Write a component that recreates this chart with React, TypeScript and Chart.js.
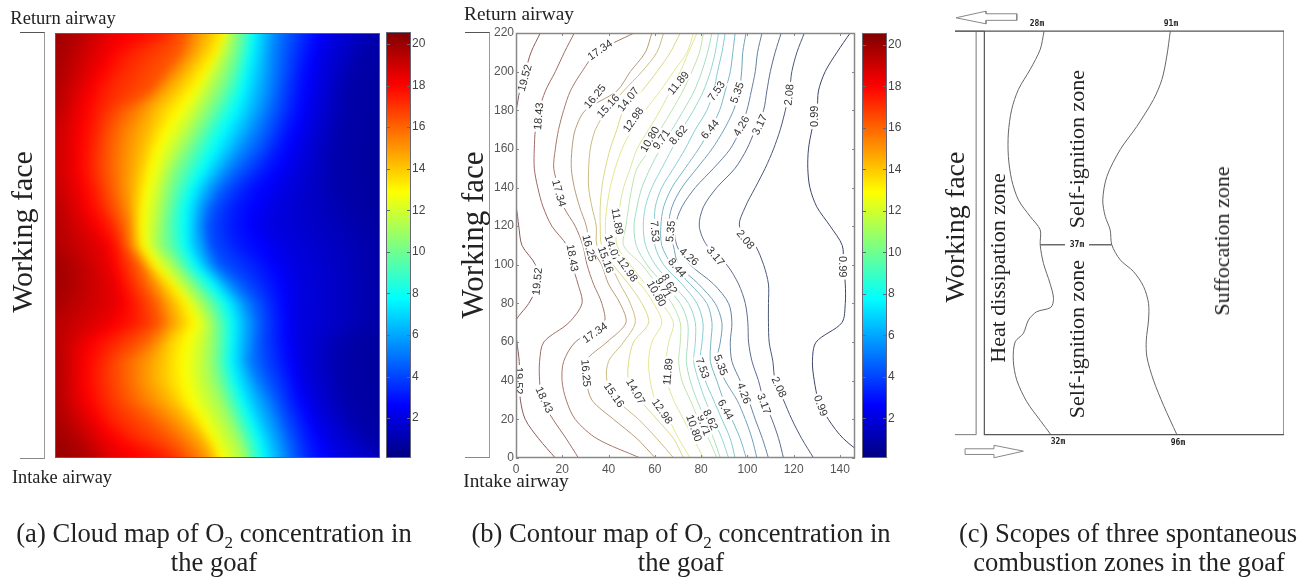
import React, { useEffect, useRef } from "react";
import { Chart, registerables } from "chart.js";
Chart.register(...registerables);

const FONT_SANS = "'Liberation Sans', sans-serif";
const FONT_SERIF = "'Liberation Serif', serif";

// y rows (m along working face) shared by every contour
const rowY = [220,210,200,190,180,170,160,150,140,130,120,110,100,90,80,70,60,50,40,30,20,10,0];

// distance (m) of each O2 iso-line on each row
const c1952 = [10.5,6.5,4,1.6,0,-3,-4,-4,-3,0,1.2,2.6,8.4,9.4,5.5,-0.5,0.4,1.4,1.5,1.9,4,9.8,17];
const c1843 = [25.2,20.9,17,12.7,10,8.4,7.9,7.9,9.4,11.7,15.5,22,24.2,26.8,28.5,22.8,12,10.2,10.2,11.2,16,21.7,27];
const c1734 = [51,35,28.5,23.5,20.6,18.4,17,16.3,18.4,20.6,25.6,28.9,30.7,33.5,37.1,38,25.6,20.6,19.9,21.7,25.6,35,53.7];
const c1625 = [58.7,55.9,49.4,43.6,30,25.6,24.2,23.9,25.2,27.5,30.4,32,37,40,45,47.5,39.3,30,30.4,32.8,42.2,52.3,60.2];
const c1516 = [63.8,60.9,54.4,46.5,39.3,34.3,32.1,31.4,31.4,32.8,34.7,35,40.7,45,49.4,51.5,46.5,40,39.3,43.6,53,60.9,68.1];
const c1407 = [71,66.7,60.9,54.4,46.5,43.6,40.7,38.6,37.1,36.4,36.4,37,42,48.7,54.4,57.3,50.8,48.7,48.7,53.7,60.9,68.1,72.4];
const c1298 = [76.7,73.9,68.1,62.3,55.9,50.1,45.8,42.9,40.7,39.3,38.6,39.5,45,53.7,59.5,63,58.7,57.3,58,60.2,66,70.3,75.3];
const c1189 = [78.2,74.6,71,66.7,62.3,57.3,52.3,49.4,46.5,44.8,43.6,43.6,49.4,55.9,63,68,66,64.8,65.2,68.1,72.4,76.7,81];
const c1080 = [81,79.3,76,72.1,67.4,62.4,58,52.3,50.1,48.7,47.5,46.5,54.4,60.9,67.4,71,71,70.3,71.7,75.3,78.9,83.2,86.8];
const c971 = [84.7,82.8,80.3,77,72.4,67.4,62.4,58,54.4,52.3,51,52,56.6,63.8,71,74.2,74.2,73.6,75.3,78.2,81.8,85.4,88.3];
const c862 = [87.5,86.1,84,81,76.7,71.7,67.4,63,58.7,55.9,55,56,60.2,67.4,74.6,77.5,77.5,76.8,78.9,81.8,85.4,89,91.9];
const c753 = [90.4,89,87.1,85.4,82.5,77.5,73.1,68.1,63,60.2,59.8,60,63.8,71.7,78.2,80.8,80.4,79.6,81.8,85.4,89,92.6,94.7];
const c644 = [94.7,93.7,92.6,90.4,88,83.9,78.9,73.1,67.4,63.8,62.6,63,67.4,75.3,82.5,84.7,84.2,84,86.8,89.7,93.3,96.9,99.5];
const c535 = [99.4,98,97.5,96.5,94,89.9,84.7,78.2,71.7,67.4,66,68,70.3,78.9,86.1,89,88.3,86.9,90.4,95.5,99.1,102,104.1];
const c426 = [106.3,104.4,103.4,101.7,99.8,96.9,92.6,85.4,77.5,71.7,68.8,69.5,75.3,85.4,91.9,93.3,92.6,93.3,96.9,100.5,103.4,106.5,109.1];
const c317 = [114.6,112,109.9,108.4,107,103.4,99.8,94.7,86.8,81,79.2,82.5,91.1,96.2,99.1,100.2,100.5,102,104.8,107,110.6,113.5,115.6];
const c208 = [124.6,121.4,119.2,118.2,116.4,114.2,111.3,107.7,103.4,99.1,96.6,103.4,107,109.1,109.1,109.1,109.4,111,112,115.6,119.2,123.5,128.6];
const c099 = [144.4,138.7,133.6,130.7,130.1,127.9,126.4,126.1,127,130,135.8,141,141.5,142.3,142.3,140.8,129.7,128.1,128.9,130.7,135,141.5,152];

const levels = [19.52,18.43,17.34,16.25,15.16,14.07,12.98,11.89,10.8,9.71,8.62,7.53,6.44,5.35,4.26,3.17,2.08,0.99];
const contours = [c1952,c1843,c1734,c1625,c1516,c1407,c1298,c1189,c1080,c971,c862,c753,c644,c535,c426,c317,c208,c099];
const contourColors = ["#8f5a5a","#a06a62","#a87868","#b89a78","#cdbb80","#dcd884","#e6e68e","#dbe79a","#bfe4ad","#a5dfc0","#92d8d0","#84ccd2","#78b8c8","#6ea0b8","#64829e","#5c6c8c","#4a5878","#3c4668"];

// inline contour labels
const labelTexts = ["19.52","18.43","17.34","16.25","15.16","14.07","12.98","11.89","10.80","9.71","8.62","7.53","5.35","6.44","4.26","3.17","2.08","0.99",
  "17.34","11.89","7.53","5.35","2.08","3.17","4.26","8.44","16.25","15.16","14.07","12.98","18.43","19.52","8.62","9.71","10.80",
  "17.34","16.25","18.43","15.16","14.07","12.98","11.89","10.80","9.71","8.62","19.52","7.53","5.35","4.26","3.17","2.08","0.99","6.44","0.99"];
const labelX = [4,10,36.4,34.3,40,48.7,50.8,70.3,58,63,70.3,86.8,95.8,84,97.6,105.5,118.2,129.3,
  18.4,43.6,59.8,67,99,86.1,74.6,69.5,31.4,38.6,41.5,48,24.2,9.4,66,63.5,60.5,
  34.3,30,12,42.2,51.5,63,65.9,76.7,81,83.9,0.7,80.4,88.3,98.3,107,113.5,131.5,90.4,141.1];
const labelY = [196.7,176.9,211,187,182,185.5,175,194,164.8,164.8,167,189.8,189,170,171.7,172.5,188,176.9,
  137,122.5,117.3,117.3,113,104.3,104,98.3,108.6,102.6,108.6,97.4,103.5,91.4,90,88,85,
  64.6,43.9,30,32.5,34.3,24,44.7,15.4,17,19.7,40,46.5,48,33.5,28,36.6,27,25,99];
const labelAngle = [-75,-85,-35,-50,-48,-52,-55,-50,-60,-55,-50,-55,-70,-50,-60,-65,-85,-90,
  75,80,85,-85,50,50,40,50,75,70,70,55,80,-85,60,60,60,
  -35,85,65,55,60,55,-85,70,70,65,90,70,70,70,70,65,70,60,90];

// axis ticks of the contour map
const xTicks = [0,20,40,60,80,100,120,140];
const yTicks = [0,20,40,60,80,100,120,140,160,180,200,220];
const barTicks = [2,4,6,8,10,12,14,16,18,20];
const X_MAX = 146.5;
const BAR_MIN = 0.08;
const BAR_MAX = 20.58;

// zone boundaries of panel (c)
const innerX = [29.1,27.2,22.3,16.6,13.3,11.7,11.7,13.3,16.6,22.3,27.2,27.2,28.8,32,33.7,32.4,25.5,21.5,19,15,14.1,15.8,20.7,27.2,32.4];
const innerY = [220,210,199.1,188.2,177.2,164.5,151.7,139,128,119,111.7,103.5,93.4,82.5,74.3,69.4,67,62.5,55.2,50.6,40.6,29.7,17.9,7.8,0];
const outerX = [90.6,88.9,86.5,82.4,74.3,66.2,59.7,57.7,58.9,61.3,62.1,66.2,72.7,77.6,80,80,78.9,79.2,82.4,87.3,93.8];
const outerY = [220,206.4,193.6,182.7,168.1,155.4,140.8,128,119,111.7,103.5,95.3,88.9,80.7,71.6,62.5,51.5,42.4,29.7,16,0];
const spanX = [27.2,62.1];
const spanY = [103.5,103.5];
const frameX = [-14.3,146,146,0,0];
const frameY = [220,220,0,0,220];
const wallX = [-14.3,-4,-4,-14.3];
const wallY = [0,0,220,220];
const floorX = [0,-4];
const arrowTopX = [-13.8,0.8,0.8,15.8,15.8,0.8,0.8,-13.8];
const arrowTopY = [227.3,230.9,229.5,229.5,225.9,225.9,224,227.3];
const arrowBotX = [-9.4,4.7,4.7,19,4.7,4.7,-9.4,-9.4];
const arrowBotY = [-7.7,-7.7,-5.8,-9,-12.6,-10.8,-10.8,-7.7];

function jet(t: number): [number, number, number] {
  const f = (a: number) => Math.max(0, Math.min(1, 1.5 - Math.abs(4 * t - a)));
  return [f(3) * 255, f(2) * 255, f(1) * 255];
}
const pairs = (xs: number[], ys: number[]) => xs.map((x, i) => ({ x, y: ys[i] }));

// axes keep a real box (tick labels are clipped to it); padding is reduced by that box
const rectPadding = (r: any, leftAxis = 0, bottomAxis = 0, rightAxis = 0) => ({
  left: r.l - leftAxis, top: r.t, right: 1304 - r.l - r.w - rightAxis, bottom: 577 - r.t - r.h - bottomAxis,
});
const fixW = (n: number) => (s: any) => { s.width = n; };
const fixH = (n: number) => (s: any) => { s.height = n; };
const setTicks = (vals: number[]) => (s: any) => { s.ticks = vals.map((v) => ({ value: v })); };

const framePlugin = (color: string, xt: number[], yt: number[], len: number, lw = 1) => ({
  id: "frame",
  afterDraw(chart: any) {
    const { ctx, chartArea: a, scales } = chart;
    ctx.save();
    ctx.strokeStyle = color;
    ctx.lineWidth = lw;
    ctx.strokeRect(a.left + 0.5, a.top + 0.5, a.right - a.left - 1, a.bottom - a.top - 1);
    ctx.lineWidth = 1;
    ctx.beginPath();
    for (const v of xt) {
      const p = Math.round(scales.x.getPixelForValue(v)) + 0.5;
      ctx.moveTo(p, a.top); ctx.lineTo(p, a.top + len);
      ctx.moveTo(p, a.bottom); ctx.lineTo(p, a.bottom - len);
    }
    for (const v of yt) {
      const p = Math.round(scales.y.getPixelForValue(v)) + 0.5;
      ctx.moveTo(a.left, p); ctx.lineTo(a.left + len, p);
      ctx.moveTo(a.right, p); ctx.lineTo(a.right - len, p);
    }
    ctx.stroke();
    ctx.restore();
  },
});

const heatPlugin = {
  id: "heat",
  beforeDatasetsDraw(chart: any) {
    const { ctx, chartArea: a, scales } = chart;
    const W = Math.round(a.right - a.left), H = Math.round(a.bottom - a.top);
    const off = document.createElement("canvas");
    off.width = W; off.height = H;
    const octx = off.getContext("2d")!;
    const img = octx.createImageData(W, H);
    const lv = [20.58, ...levels, 0.3];
    for (let py = 0; py < H; py++) {
      const yv = scales.y.getValueForPixel(a.top + py + 0.5);
      const f = Math.max(0, Math.min(rowY.length - 1.001, (220 - yv) / 10));
      const i0 = Math.floor(f), fr = f - i0;
      const xs = [-12, ...contours.map((c) => c[i0] * (1 - fr) + c[i0 + 1] * fr), 165];
      for (let px = 0; px < W; px++) {
        const xv = scales.x.getValueForPixel(a.left + px + 0.5);
        let k = 0;
        while (k < xs.length - 2 && xv > xs[k + 1]) k++;
        const span = Math.max(0.01, xs[k + 1] - xs[k]);
        const val = lv[k] + ((lv[k + 1] - lv[k]) * (xv - xs[k])) / span;
        const [r, g, b] = jet((val - BAR_MIN) / (BAR_MAX - BAR_MIN));
        const o = (py * W + px) * 4;
        img.data[o] = r; img.data[o + 1] = g; img.data[o + 2] = b; img.data[o + 3] = 255;
      }
    }
    octx.putImageData(img, 0, 0);
    ctx.save();
    ctx.beginPath();
    ctx.rect(a.left, a.top, W, H);
    ctx.clip();
    ctx.drawImage(off, a.left, a.top);
    ctx.filter = "blur(4px)";
    ctx.drawImage(off, a.left, a.top);
    ctx.restore();
  },
};

const labelPlugin = {
  id: "contourLabels",
  afterDatasetsDraw(chart: any) {
    const { ctx, chartArea: a, scales } = chart;
    ctx.save();
    ctx.beginPath();
    ctx.rect(a.left, a.top, a.right - a.left, a.bottom - a.top);
    ctx.clip();
    ctx.font = `11px ${FONT_SANS}`;
    ctx.textAlign = "center";
    ctx.textBaseline = "middle";
    labelTexts.forEach((t, i) => {
      ctx.save();
      ctx.translate(scales.x.getPixelForValue(labelX[i]), scales.y.getPixelForValue(labelY[i]));
      ctx.rotate((labelAngle[i] * Math.PI) / 180);
      const w = ctx.measureText(t).width;
      ctx.fillStyle = "#fff";
      ctx.fillRect(-w / 2 - 2, -5, w + 4, 10);
      ctx.fillStyle = "#333";
      ctx.fillText(t, 0, 0);
      ctx.restore();
    });
    ctx.restore();
  },
};

const hiddenScale = (min: number, max: number) => ({ type: "linear", min, max, display: false });

function heatConfig(r: any) {
  return {
    type: "scatter",
    data: { datasets: [{ data: [], label: "O2" }] },
    options: {
      animation: false, responsive: false,
      layout: { padding: rectPadding(r) },
      plugins: { legend: { display: false }, tooltip: { enabled: false } },
      scales: { x: hiddenScale(0, X_MAX), y: hiddenScale(0, 220) },
    },
    plugins: [heatPlugin, framePlugin("#5a5a70", [], [], 0)],
  };
}

function barConfig(r: any) {
  return {
    type: "bar",
    data: {
      labels: ["O2"],
      datasets: [{
        data: [[BAR_MIN, BAR_MAX]],
        barPercentage: 1, categoryPercentage: 1,
        backgroundColor: (c: any) => {
          const a = c.chart.chartArea;
          if (!a) return "#00f";
          const g = c.chart.ctx.createLinearGradient(0, a.bottom, 0, a.top);
          for (let i = 0; i <= 64; i++) {
            const [R, G, B] = jet(i / 64);
            g.addColorStop(i / 64, `rgb(${R},${G},${B})`);
          }
          return g;
        },
      }],
    },
    options: {
      animation: false, responsive: false,
      layout: { padding: rectPadding(r, 0, 0, 24) },
      plugins: { legend: { display: false }, tooltip: { enabled: false } },
      scales: {
        x: { display: false },
        y: {
          type: "linear", position: "right", min: BAR_MIN, max: BAR_MAX,
          afterFit: fixW(24), afterBuildTicks: setTicks(barTicks),
          grid: { display: false, drawTicks: false }, border: { display: false },
          ticks: { padding: 1, color: "#444", font: { family: FONT_SANS, size: 12 }, callback: (v: any) => String(v) },
        },
      },
    },
    plugins: [framePlugin("#667", [], barTicks, 4)],
  };
}

function contourConfig(r: any) {
  return {
    type: "scatter",
    data: {
      datasets: contours.map((c, i) => ({
        label: String(levels[i]),
        data: pairs(c, rowY),
        showLine: true, pointRadius: 0,
        borderColor: contourColors[i], borderWidth: 1, tension: 0.3,
      })),
    },
    options: {
      animation: false, responsive: false,
      layout: { padding: rectPadding(r, 30, 20, 0) },
      plugins: { legend: { display: false }, tooltip: { enabled: false } },
      scales: {
        x: {
          type: "linear", min: 0, max: X_MAX, afterFit: fixH(20), afterBuildTicks: setTicks(xTicks),
          grid: { display: false, drawTicks: false }, border: { display: false },
          ticks: { padding: 4, maxRotation: 0, autoSkip: false, color: "#555", font: { family: FONT_SANS, size: 12 }, callback: (v: any) => String(v) },
        },
        y: {
          type: "linear", min: 0, max: 220, afterFit: fixW(30), afterBuildTicks: setTicks(yTicks),
          grid: { display: false, drawTicks: false }, border: { display: false },
          ticks: { padding: 2, autoSkip: false, color: "#555", font: { family: FONT_SANS, size: 12 }, callback: (v: any) => String(v) },
        },
      },
    },
    plugins: [labelPlugin, framePlugin("#888", xTicks, yTicks, 3, 1.5)],
  };
}

function zoneConfig(r: any) {
  const line = (data: any[], color: string, width: number, tension = 0) => ({
    data, showLine: true, pointRadius: 0, borderColor: color, borderWidth: width, tension,
  });
  return {
    type: "scatter",
    data: {
      datasets: [
        line(pairs(frameX, frameY), "#555", 1.2),
        line(pairs(wallX, wallY), "#777", 1),
        line(pairs(floorX, [220, 220]), "#777", 1),
        line(pairs(innerX, innerY), "#666", 1, 0.3),
        line(pairs(outerX, outerY), "#666", 1, 0.3),
        line(pairs(spanX, spanY), "#222", 1),
        line(pairs(arrowTopX, arrowTopY), "#888", 1),
        line(pairs(arrowBotX, arrowBotY), "#888", 1),
      ],
    },
    options: {
      animation: false, responsive: false,
      layout: { padding: rectPadding(r) },
      plugins: { legend: { display: false }, tooltip: { enabled: false } },
      scales: { x: hiddenScale(-14.3, 146), y: hiddenScale(-22, 237) },
    },
  };
}

const RECTS = {
  heat: { l: 55, t: 33, w: 325, h: 425 },
  barA: { l: 386, t: 32, w: 25, h: 426 },
  contour: { l: 516, t: 33, w: 339, h: 425 },
  barB: { l: 862, t: 33, w: 25, h: 425 },
  zone: { l: 955, t: 0, w: 329, h: 475 },
};

function ChartCanvas({ config }: { config: any }) {
  const ref = useRef<HTMLCanvasElement>(null);
  useEffect(() => {
    const ch = new Chart(ref.current!, config);
    return () => ch.destroy();
  }, []);
  return <canvas ref={ref} width={1304} height={577} style={{ position: "absolute", left: 0, top: 0, width: 1304, height: 577 }} />;
}

const T = ({ x, y, size, children, color = "#222", family = FONT_SERIF, weight = "normal" }: any) => (
  <div style={{ position: "absolute", left: x, top: y, fontSize: size, fontFamily: family, color, whiteSpace: "nowrap", lineHeight: 1, fontWeight: weight, transform: "translate(-50%,-50%)" }}>{children}</div>
);
const V = ({ x, y, size, children, color = "#222" }: any) => (
  <div style={{ position: "absolute", left: x, top: y, fontSize: size, fontFamily: FONT_SERIF, color, whiteSpace: "nowrap", lineHeight: 1, transform: "translate(-50%,-50%) rotate(-90deg)" }}>{children}</div>
);
const Bracket = ({ x0, x1, y0, y1 }: any) => (
  <div style={{ position: "absolute", left: x0, top: y0, width: x1 - x0, height: y1 - y0, borderTop: "1px solid #555", borderBottom: "1px solid #888", borderRight: "1.5px solid #999", boxSizing: "border-box" }} />
);
const Mini = ({ x, y, children }: any) => (
  <T x={x} y={y} size={8} family="'DejaVu Sans Mono', monospace" weight="bold" color="#222">{children}</T>
);
const Sub = () => <sub style={{ fontSize: 17, lineHeight: 0 }}>2</sub>;

export default function App() {
  return (
    <div style={{ position: "absolute", left: 0, top: 0, width: 1304, height: 577, background: "#fff", overflow: "hidden" }}>
      <ChartCanvas config={heatConfig(RECTS.heat)} />
      <ChartCanvas config={barConfig(RECTS.barA)} />
      <ChartCanvas config={contourConfig(RECTS.contour)} />
      <ChartCanvas config={barConfig(RECTS.barB)} />
      <ChartCanvas config={zoneConfig(RECTS.zone)} />

      <Bracket x0={20} x1={45} y0={32} y1={459} />
      <Bracket x0={465} x1={490} y0={32} y1={458} />

      <T x={63} y={18} size={18.5}>Return airway</T>
      <T x={62} y={477} size={18.3}>Intake airway</T>
      <T x={519} y={14} size={19.3}>Return airway</T>
      <T x={516} y={481} size={19.3}>Intake airway</T>

      <V x={22} y={232} size={30}>Working face</V>
      <V x={472} y={235} size={31}>Working face</V>
      <V x={955} y={227} size={28}>Working face</V>
      <V x={998} y={268} size={22}>Heat dissipation zone</V>
      <V x={1077} y={149} size={22}>Self-ignition zone</V>
      <V x={1077} y={339} size={22}>Self-ignition zone</V>
      <V x={1222} y={241} size={22}>Suffocation zone</V>

      <Mini x={1037} y={24}>28m</Mini>
      <Mini x={1171} y={24}>91m</Mini>
      <Mini x={1058} y={442}>32m</Mini>
      <Mini x={1178} y={443}>96m</Mini>
      <div style={{ position: "absolute", left: 1065, top: 240, width: 24, height: 10, background: "#fff" }} />
      <Mini x={1077} y={245}>37m</Mini>

      <T x={214} y={533} size={26.6}>(a) Cloud map of O<Sub /> concentration in</T>
      <T x={214} y={562} size={26.6}>the goaf</T>
      <T x={681} y={533} size={26.6}>(b) Contour map of O<Sub /> concentration in</T>
      <T x={681} y={562} size={26.6}>the goaf</T>
      <T x={1128} y={533} size={26.6}>(c) Scopes of three spontaneous</T>
      <T x={1129} y={562} size={26.6}>combustion zones in the goaf</T>
    </div>
  );
}
